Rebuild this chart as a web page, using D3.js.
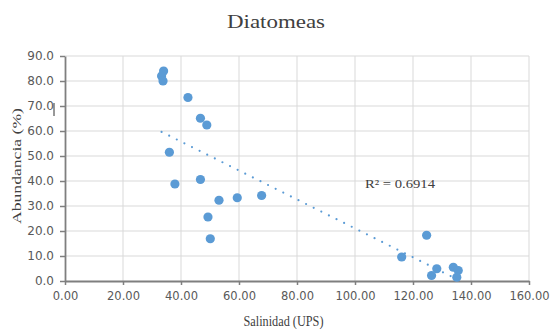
<!DOCTYPE html>
<html>
<head>
<meta charset="utf-8">
<script src="https://cdn.jsdelivr.net/npm/d3@7"></script>
<style>
  body { margin: 0; background: #fff; }
  svg { display: block; }
</style>
</head>
<body>
<div class="chart"></div>
<script>
// Diatomeas: abundancia vs salinidad, con linea de tendencia lineal

var salinidad = [34.0, 33.3, 33.8, 42.4, 46.7, 48.9, 36.0, 37.9, 46.7, 53.1, 59.4, 67.8, 49.3, 50.1,
                 124.7, 116.1, 128.2, 126.4, 133.9, 135.6, 135.1];
var abundancia = [84.0, 82.0, 80.0, 73.4, 65.1, 62.4, 51.5, 38.8, 40.6, 32.3, 33.3, 34.2, 25.6, 16.9,
                  18.3, 9.6, 4.9, 2.2, 5.5, 4.2, 1.5];
var xTicks = [0, 20, 40, 60, 80, 100, 120, 140, 160];
var yTicks = [0, 10, 20, 30, 40, 50, 60, 70, 80, 90];
var r2Text = "R² = 0.6914";

var width = 551, height = 336;
var margin = {left: 65, right: 22, top: 56, bottom: 55};

var svg = d3.select(".chart").append("svg")
    .attr("width", width)
    .attr("height", height);

var x = d3.scaleLinear().domain([0, 160]).range([margin.left, 529]);
var y = d3.scaleLinear().domain([0, 90]).range([281, margin.top]);

// grid
svg.selectAll("line.vgrid")
    .data(xTicks.slice(1))
    .enter().append("line")
    .attr("x1", function(d) { return x(d); })
    .attr("x2", function(d) { return x(d); })
    .attr("y1", y(0)).attr("y2", y(90))
    .style("stroke", "#d9d9d9").style("stroke-width", 1);

svg.selectAll("line.hgrid")
    .data(yTicks.slice(1))
    .enter().append("line")
    .attr("x1", x(0)).attr("x2", x(160))
    .attr("y1", function(d) { return y(d); })
    .attr("y2", function(d) { return y(d); })
    .style("stroke", "#d9d9d9").style("stroke-width", 1);

// axes
var xAxis = d3.axisBottom(x).tickValues(xTicks).tickSize(4).tickSizeOuter(0)
    .tickFormat(function(d) { return d3.format(".2f")(d); });
var yAxis = d3.axisLeft(y).tickValues(yTicks).tickSize(5).tickSizeOuter(0)
    .tickFormat(function(d) { return d3.format(".1f")(d); });

var gx = svg.append("g").attr("transform", "translate(0," + y(0) + ")").call(xAxis);
var gy = svg.append("g").attr("transform", "translate(" + x(0) + ",0)").call(yAxis);

[gx, gy].forEach(function(g) {
  g.select(".domain").style("stroke", "#7f7f7f").style("stroke-width", 1.8);
  g.selectAll(".tick line").style("stroke", "#7f7f7f").style("stroke-width", 1.5);
  g.selectAll(".tick text")
      .style("font-family", "'DejaVu Sans', sans-serif")
      .style("font-size", "11.5px")
      .style("fill", "#595959");
});
gx.selectAll(".tick text").attr("y", 8).attr("dy", "0.95em");
gy.selectAll(".tick text").attr("x", -11).style("font-size", "12px");

// regression line from the data
var n = salinidad.length;
var mx = d3.mean(salinidad), my = d3.mean(abundancia);
var sxy = 0, sxx = 0;
for (var i = 0; i < n; i++) {
  sxy += (salinidad[i] - mx) * (abundancia[i] - my);
  sxx += (salinidad[i] - mx) * (salinidad[i] - mx);
}
var slope = sxy / sxx, intercept = my - slope * mx;
var xMin = d3.min(salinidad), xMax = d3.max(salinidad);

svg.append("line")
    .attr("x1", x(xMin)).attr("y1", y(intercept + slope * xMin))
    .attr("x2", x(xMax)).attr("y2", y(intercept + slope * xMax))
    .style("stroke", "#5b9bd5")
    .style("stroke-width", 2.2)
    .style("stroke-dasharray", "0 8.5")
    .style("stroke-linecap", "round");

// points
svg.selectAll("circle")
    .data(salinidad)
    .enter().append("circle")
    .attr("cx", function(d) { return x(d); })
    .attr("cy", function(d, i) { return y(abundancia[i]); })
    .attr("r", 4.6)
    .style("fill", "#5b9bd5");

// stray cursor mark next to 70.0
svg.append("line")
    .attr("x1", 54).attr("x2", 54).attr("y1", 103).attr("y2", 116)
    .style("stroke", "#333").style("stroke-width", 1);

// texts
svg.append("text")
    .text("Diatomeas")
    .attr("x", 276).attr("y", 28)
    .attr("text-anchor", "middle")
    .attr("textLength", 98)
    .attr("lengthAdjust", "spacingAndGlyphs")
    .style("font-family", "'Liberation Serif', serif")
    .style("font-size", "19px")
    .style("fill", "#404040");

svg.append("text")
    .text(r2Text)
    .attr("x", 365).attr("y", 188)
    .attr("textLength", 70)
    .attr("lengthAdjust", "spacingAndGlyphs")
    .style("font-family", "'Liberation Serif', serif")
    .style("font-size", "13px")
    .style("fill", "#404040");

svg.append("text")
    .text("Salinidad (UPS)")
    .attr("x", 283.5).attr("y", 326)
    .attr("text-anchor", "middle")
    .attr("textLength", 80)
    .attr("lengthAdjust", "spacingAndGlyphs")
    .style("font-family", "'Liberation Serif', serif")
    .style("font-size", "14.5px")
    .style("fill", "#404040");

svg.append("text")
    .text("Abundancia (%)")
    .attr("transform", "translate(21,166) rotate(-90)")
    .attr("text-anchor", "middle")
    .attr("textLength", 116)
    .attr("lengthAdjust", "spacingAndGlyphs")
    .style("font-family", "'Liberation Serif', serif")
    .style("font-size", "13.5px")
    .style("fill", "#404040");
</script>
</body>
</html>
